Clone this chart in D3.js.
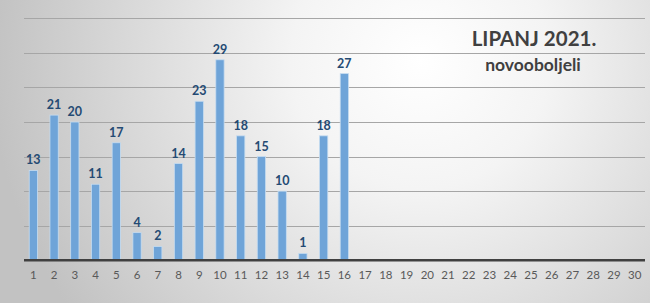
<!DOCTYPE html>
<html>
<head>
<meta charset="utf-8">
<script src="https://cdn.jsdelivr.net/npm/d3@7"></script>
<style>
  body { margin: 0; }
  svg { display: block; font-family: Lato, "Open Sans", sans-serif; }
</style>
</head>
<body>
<div id="chart"></div>
<script>
// days of June 2021 and new cases
const days = d3.range(1, 31).map(String);
const cases = [13, 21, 20, 11, 17, 4, 2, 14, 23, 29, 18, 15, 10, 1, 18, 27];
const yTicks = [0, 5, 10, 15, 20, 25, 30, 35];

const width = 650;
const height = 303;
const margin = { top: 18.3, right: 5, bottom: 42.7, left: 23 };

const svg = d3.select("#chart")
    .append("svg")
    .attr("width", width)
    .attr("height", height);

// background gradient
const defs = svg.append("defs");
const grad = defs.append("radialGradient")
    .attr("id", "bg")
    .attr("gradientUnits", "userSpaceOnUse")
    .attr("cx", 420).attr("cy", 60).attr("r", 430);
grad.append("stop").attr("offset", "0%").attr("stop-color", "#ffffff");
grad.append("stop").attr("offset", "30%").attr("stop-color", "#f4f4f4");
grad.append("stop").attr("offset", "100%").attr("stop-color", "#c2c2c2");

svg.append("rect")
    .attr("width", width)
    .attr("height", height)
    .attr("fill", "url(#bg)");

const x = d3.scaleBand()
    .domain(days)
    .range([margin.left, width - margin.right])
    .paddingInner(0.6)
    .paddingOuter(0.3);

const y = d3.scaleLinear()
    .domain([0, 35])
    .range([height - margin.bottom, margin.top]);

// gridlines
svg.append("g")
    .selectAll("line")
    .data(yTicks.slice(1))
    .enter()
    .append("line")
    .attr("x1", 24)
    .attr("x2", width - margin.right)
    .attr("y1", d => Math.round(y(d)) + 0.5)
    .attr("y2", d => Math.round(y(d)) + 0.5)
    .attr("stroke", "#a6a6a6")
    .attr("stroke-width", 1);

// bars
svg.append("g")
    .selectAll("rect")
    .data(cases)
    .enter()
    .append("rect")
    .attr("x", (d, i) => x(days[i]))
    .attr("y", d => y(d))
    .attr("width", x.bandwidth())
    .attr("height", d => y(0) - y(d))
    .attr("fill", "#6fa4d8")
    .attr("stroke", "#c6dcf0")
    .attr("stroke-width", 0.8);

// value labels
svg.append("g")
    .selectAll("text")
    .data(cases)
    .enter()
    .append("text")
    .attr("x", (d, i) => x(days[i]) + x.bandwidth() / 2)
    .attr("y", d => y(d) - 6)
    .attr("text-anchor", "middle")
    .attr("font-size", 12.5)
    .attr("font-weight", "bold")
    .attr("fill", "#244a73")
    .text(d => d);

// x axis
const xAxis = svg.append("g")
    .attr("transform", `translate(0,${y(0)})`)
    .call(d3.axisBottom(x).tickSize(0).tickPadding(11));
xAxis.select(".domain")
    .attr("d", `M24,0H${width - margin.right}`)
    .attr("stroke", "#404040")
    .attr("stroke-width", 2.5);
xAxis.selectAll("text")
    .attr("font-size", 11.5)
    .attr("font-family", "Lato, 'Open Sans', sans-serif")
    .attr("fill", "#595959");

// title
svg.append("text")
    .attr("x", 534)
    .attr("y", 46)
    .attr("text-anchor", "middle")
    .attr("font-size", 20.5)
    .attr("font-weight", "bold")
    .attr("fill", "#404040")
    .text("LIPANJ 2021.");

svg.append("text")
    .attr("x", 533)
    .attr("y", 71)
    .attr("text-anchor", "middle")
    .attr("font-size", 17.5)
    .attr("font-weight", "bold")
    .attr("fill", "#404040")
    .text("novooboljeli");
</script>
</body>
</html>
